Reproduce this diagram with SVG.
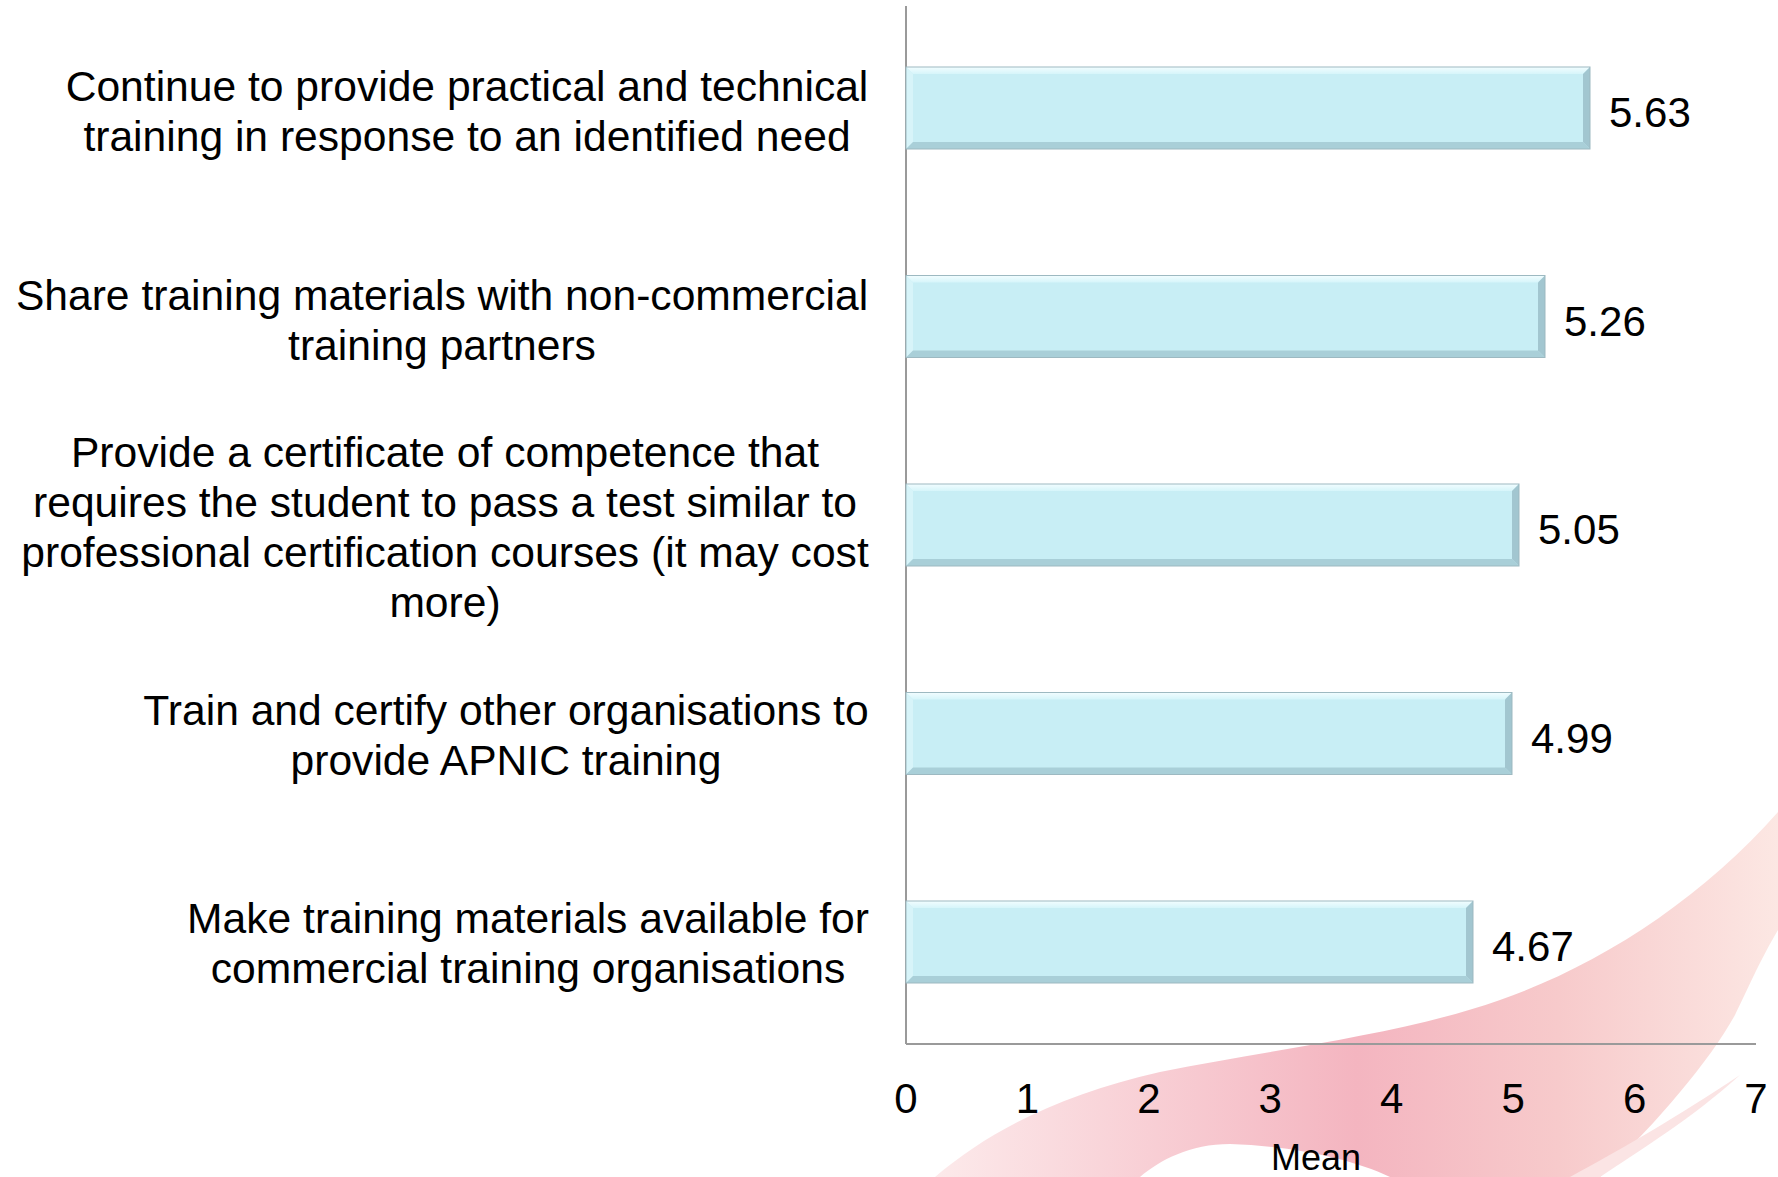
<svg xmlns="http://www.w3.org/2000/svg" width="1778" height="1177" viewBox="0 0 1778 1177">
<style>
.lbl{font-family:"Liberation Sans",Arial,sans-serif;font-size:42.6px;fill:#000;text-anchor:middle}
.val{font-family:"Liberation Sans",Arial,sans-serif;font-size:42px;fill:#000}
.tick{font-family:"Liberation Sans",Arial,sans-serif;font-size:42px;fill:#000;text-anchor:middle}
.ax{stroke:#9a9a9a;stroke-width:2;fill:none}
.face{fill:#C8EEF5}
.bt{fill:url(#topbev)}
.bl{fill:#D7F4F9}
.bb{fill:#A9CFD8}
.br{fill:#A2C6D0}
.edge{fill:none;stroke:#9DB9C1;stroke-width:1}
</style>
<defs>
<linearGradient id="pink" x1="900" y1="0" x2="1778" y2="0" gradientUnits="userSpaceOnUse">
<stop offset="0" stop-color="#FDEEEE"/>
<stop offset="0.52" stop-color="#F4B5C0"/>
<stop offset="0.75" stop-color="#F7CACB"/>
<stop offset="1" stop-color="#FCE7E3"/>
</linearGradient>
<linearGradient id="topbev" x1="0" y1="0" x2="0" y2="1">
<stop offset="0" stop-color="#F2FDFF"/>
<stop offset="1" stop-color="#D6F5FA"/>
</linearGradient>
</defs>
<rect width="1778" height="1177" fill="#fff"/>
<g id="background">
<path d="M935,1177 C990,1130 1060,1095 1160,1072 C1280,1048 1400,1035 1500,1000 C1600,965 1700,900 1778,812 L1778,930 C1760,960 1745,995 1735,1015 C1710,1060 1660,1120 1600,1177 L1390,1177 C1350,1158 1290,1146 1230,1144 C1190,1144 1160,1160 1140,1177 Z" fill="url(#pink)"/>
<path d="M1570,1177 C1620,1150 1680,1115 1740,1075 C1690,1120 1640,1150 1600,1177 Z" fill="#FBE4E4"/>
</g>
<g id="axes">
<line class="ax" x1="906" y1="6" x2="906" y2="1044"/>
<line class="ax" x1="906" y1="1044" x2="1756" y2="1044"/>
</g>
<g id="bar1">
<rect class="face" x="906" y="67" width="684" height="82"/>
<polygon class="bt" points="906,67 1590,67 1583,74 913,74"/>
<polygon class="bl" points="906,67 913,74 913,142 906,149"/>
<polygon class="bb" points="906,149 913,142 1583,142 1590,149"/>
<polygon class="br" points="1590,67 1590,149 1583,142 1583,74"/>
<rect class="edge" x="906" y="67" width="684" height="82"/>
<text class="val" x="1609" y="127">5.63</text>
</g>
<g id="bar2">
<rect class="face" x="906" y="275.5" width="639" height="82"/>
<polygon class="bt" points="906,275.5 1545,275.5 1538,282.5 913,282.5"/>
<polygon class="bl" points="906,275.5 913,282.5 913,350.5 906,357.5"/>
<polygon class="bb" points="906,357.5 913,350.5 1538,350.5 1545,357.5"/>
<polygon class="br" points="1545,275.5 1545,357.5 1538,350.5 1538,282.5"/>
<rect class="edge" x="906" y="275.5" width="639" height="82"/>
<text class="val" x="1564" y="335.5">5.26</text>
</g>
<g id="bar3">
<rect class="face" x="906" y="484" width="613" height="82"/>
<polygon class="bt" points="906,484 1519,484 1512,491 913,491"/>
<polygon class="bl" points="906,484 913,491 913,559 906,566"/>
<polygon class="bb" points="906,566 913,559 1512,559 1519,566"/>
<polygon class="br" points="1519,484 1519,566 1512,559 1512,491"/>
<rect class="edge" x="906" y="484" width="613" height="82"/>
<text class="val" x="1538" y="544">5.05</text>
</g>
<g id="bar4">
<rect class="face" x="906" y="692.5" width="606" height="82"/>
<polygon class="bt" points="906,692.5 1512,692.5 1505,699.5 913,699.5"/>
<polygon class="bl" points="906,692.5 913,699.5 913,767.5 906,774.5"/>
<polygon class="bb" points="906,774.5 913,767.5 1505,767.5 1512,774.5"/>
<polygon class="br" points="1512,692.5 1512,774.5 1505,767.5 1505,699.5"/>
<rect class="edge" x="906" y="692.5" width="606" height="82"/>
<text class="val" x="1531" y="752.5">4.99</text>
</g>
<g id="bar5">
<rect class="face" x="906" y="901" width="567" height="82"/>
<polygon class="bt" points="906,901 1473,901 1466,908 913,908"/>
<polygon class="bl" points="906,901 913,908 913,976 906,983"/>
<polygon class="bb" points="906,983 913,976 1466,976 1473,983"/>
<polygon class="br" points="1473,901 1473,983 1466,976 1466,908"/>
<rect class="edge" x="906" y="901" width="567" height="82"/>
<text class="val" x="1492" y="961">4.67</text>
</g>
<g id="label1">
<text class="lbl" x="467" y="101">Continue to provide practical and technical</text>
<text class="lbl" x="467" y="151">training in response to an identified need</text>
</g>
<g id="label2">
<text class="lbl" x="442" y="309.5">Share training materials with non-commercial</text>
<text class="lbl" x="442" y="359.5">training partners</text>
</g>
<g id="label3">
<text class="lbl" x="445" y="467">Provide a certificate of competence that</text>
<text class="lbl" x="445" y="517">requires the student to pass a test similar to</text>
<text class="lbl" x="445" y="567">professional certification courses (it may cost</text>
<text class="lbl" x="445" y="617">more)</text>
</g>
<g id="label4">
<text class="lbl" x="506" y="725">Train and certify other organisations to</text>
<text class="lbl" x="506" y="775">provide APNIC training</text>
</g>
<g id="label5">
<text class="lbl" x="528" y="933">Make training materials available for</text>
<text class="lbl" x="528" y="983">commercial training organisations</text>
</g>
<g id="xaxis-labels">
<text class="tick" x="906" y="1113">0</text>
<text class="tick" x="1027.4" y="1113">1</text>
<text class="tick" x="1148.9" y="1113">2</text>
<text class="tick" x="1270.3" y="1113">3</text>
<text class="tick" x="1391.7" y="1113">4</text>
<text class="tick" x="1513.1" y="1113">5</text>
<text class="tick" x="1634.6" y="1113">6</text>
<text class="tick" x="1756" y="1113">7</text>
<text class="tick" x="1316" y="1170" style="font-size:36px">Mean</text>
</g>
</svg>
